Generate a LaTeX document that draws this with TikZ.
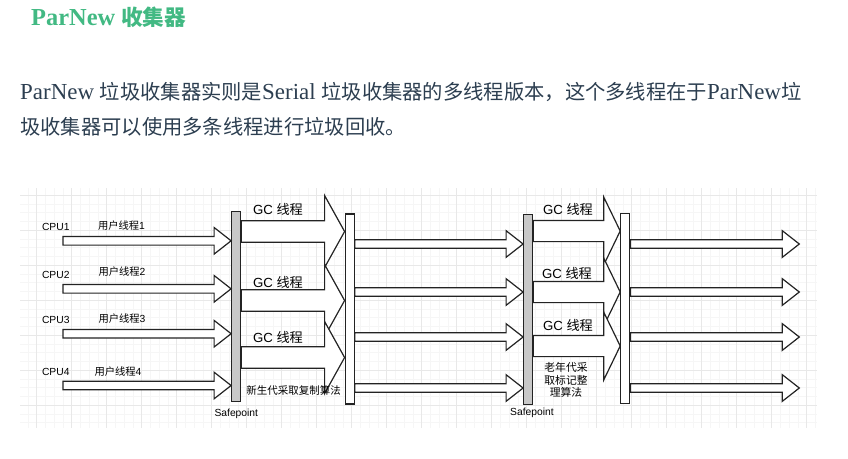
\documentclass[tikz,border=0pt]{standalone}
\usepackage{fontspec}
\setmainfont{Liberation Serif}[Scale=1.13]
\newfontfamily\cjk{Noto Sans CJK SC}
\newfontfamily\lbsans{Liberation Sans}
\usetikzlibrary{calc}

\definecolor{titlegreen}{RGB}{66,185,131}
\definecolor{bodytext}{RGB}{44,62,80}
\definecolor{gridminor}{RGB}{246,246,246}
\definecolor{gridmajor}{RGB}{232,232,232}
\definecolor{barfill}{RGB}{200,200,200}
\definecolor{edge}{RGB}{35,35,35}

\tikzset{
  sbar/.style={draw=edge, line width=1.2pt, minimum width=9pt, minimum height=190pt, inner sep=0pt},
  blk/.style args={#1/#2/#3}{draw=edge, line width=1.2pt, fill=white,
    to path={($(\tikztostart)+(0,#1)$) -- ($(\tikztotarget)+(-#3,#1)$) -- ($(\tikztotarget)+(-#3,#2)$) -- (\tikztotarget) -- ($(\tikztotarget)+(-#3,-#2)$) -- ($(\tikztotarget)+(-#3,-#1)$) -- ($(\tikztostart)+(0,-#1)$) -- cycle}},
  thinarr/.style={blk=4.3/13.3/17},
  gcarr/.style={blk=10.8/36/20},
  oldarr/.style={blk=10.6/34/16.5},
  lbl/.style={inner sep=0.75pt, font=\lbsans\fontsize{10.3}{12.4}\selectfont},
  gclbl/.style={inner sep=0.75pt, font=\lbsans\fontsize{13.2}{15}\selectfont},
}

\begin{document}
\begin{tikzpicture}[x=1pt,y=1pt,yscale=-1,xscale=1]
\useasboundingbox (0,0) rectangle (848,458);

% Text Node
\draw (31,17) node [anchor=west][inner sep=0pt, text=titlegreen, font=\bfseries\fontsize{21.6}{26}\selectfont] (title) {ParNew {\cjk 收集器}};
% Text Node
\draw (20,92) node [anchor=west][inner sep=0pt, text=bodytext, font=\fontsize{20.3}{24}\selectfont] (para1) {ParNew {\cjk 垃圾收集器实则是}Serial {\cjk 垃圾收集器的多线程版本，这个多线程在于}ParNew{\cjk 垃}};
% Text Node
\draw (20,127) node [anchor=west][inner sep=0pt, text=bodytext, font=\fontsize{20.3}{24}\selectfont] (para2) {{\cjk 圾收集器可以使用多条线程进行垃圾回收。}};

%Grid
\begin{scope}[shift={(1.7,20)}]
\draw [gridminor, line width=0.5pt, step=8.75] (18.3,168) grid (815.3,408);
\draw [gridmajor, line width=0.6pt, step=35] (18.3,168) grid (815.3,408);
\end{scope}

%Shape: Rectangle
\draw (236.2,306.7) node [sbar, fill=barfill] (sp1) {};
%Shape: Rectangle
\draw (349.7,309) node [sbar, fill=white] (sp2) {};
%Shape: Rectangle
\draw (528.2,309.7) node [sbar, fill=barfill] (sp3) {};
%Shape: Rectangle
\draw (625.3,308.7) node [sbar, fill=white] (sp4) {};

%Arrow ends
\coordinate (ua1) at (63,240.8);
\coordinate (ua2) at (63,288.8);
\coordinate (ua3) at (63,333.7);
\coordinate (ua4) at (63,385.5);
\coordinate (ub1) at (sp1.west |- ua1);
\coordinate (ub2) at (sp1.west |- ua2);
\coordinate (ub3) at (sp1.west |- ua3);
\coordinate (ub4) at (sp1.west |- ua4);
\coordinate (ga1) at (sp1.east |- 0,231.5);
\coordinate (ga2) at (sp1.east |- 0,300.5);
\coordinate (ga3) at (sp1.east |- 0,357.5);
\coordinate (gb1) at (sp2.west |- ga1);
\coordinate (gb2) at (sp2.west |- ga2);
\coordinate (gb3) at (sp2.west |- ga3);
\coordinate (ma1) at (sp2.east |- 0,244);
\coordinate (ma2) at (sp2.east |- 0,292);
\coordinate (ma3) at (sp2.east |- 0,337);
\coordinate (ma4) at (sp2.east |- 0,388);
\coordinate (mb1) at (sp3.west |- ma1);
\coordinate (mb2) at (sp3.west |- ma2);
\coordinate (mb3) at (sp3.west |- ma3);
\coordinate (mb4) at (sp3.west |- ma4);
\coordinate (oa1) at (sp3.east |- 0,231);
\coordinate (oa2) at (sp3.east |- 0,292);
\coordinate (oa3) at (sp3.east |- 0,346);
\coordinate (ob1) at (sp4.west |- oa1);
\coordinate (ob2) at (sp4.west |- oa2);
\coordinate (ob3) at (sp4.west |- oa3);
\coordinate (ra1) at (sp4.east |- 0,244);
\coordinate (ra2) at (sp4.east |- 0,292);
\coordinate (ra3) at (sp4.east |- 0,337);
\coordinate (ra4) at (sp4.east |- 0,388);
\coordinate (rb1) at (799.3,244);
\coordinate (rb2) at (799.3,292);
\coordinate (rb3) at (799.3,337);
\coordinate (rb4) at (799.3,388);

%Shape: Right Arrow
\draw [thinarr] (ua1) to (ub1);
\draw [thinarr] (ua2) to (ub2);
\draw [thinarr] (ua3) to (ub3);
\draw [thinarr] (ua4) to (ub4);
%Shape: Right Arrow
\draw [gcarr] (ga1) to (gb1);
\draw [gcarr] (ga2) to (gb2);
\draw [gcarr] (ga3) to (gb3);
%Shape: Right Arrow
\draw [thinarr] (ma1) to (mb1);
\draw [thinarr] (ma2) to (mb2);
\draw [thinarr] (ma3) to (mb3);
\draw [thinarr] (ma4) to (mb4);
%Shape: Right Arrow
\draw [oldarr] (oa1) to (ob1);
\draw [oldarr] (oa2) to (ob2);
\draw [oldarr] (oa3) to (ob3);
%Shape: Right Arrow
\draw [thinarr] (ra1) to (rb1);
\draw [thinarr] (ra2) to (rb2);
\draw [thinarr] (ra3) to (rb3);
\draw [thinarr] (ra4) to (rb4);

% Text Node
\draw (55.8,226.7) node [lbl] (cpu1) {CPU1};
% Text Node
\draw (55.8,275) node [lbl] (cpu2) {CPU2};
% Text Node
\draw (55.8,320) node [lbl] (cpu3) {CPU3};
% Text Node
\draw (55.8,372.3) node [lbl] (cpu4) {CPU4};
% Text Node
\draw (121.5,225.7) node [lbl] (ut1) {{\cjk 用户线程}1};
% Text Node
\draw (122,272) node [lbl] (ut2) {{\cjk 用户线程}2};
% Text Node
\draw (122,319) node [lbl] (ut3) {{\cjk 用户线程}3};
% Text Node
\draw (118,372) node [lbl] (ut4) {{\cjk 用户线程}4};
% Text Node
\draw (278,209) node [gclbl] (ygc1) {GC {\cjk 线程}};
% Text Node
\draw (278,282) node [gclbl] (ygc2) {GC {\cjk 线程}};
% Text Node
\draw (278,337) node [gclbl] (ygc3) {GC {\cjk 线程}};
% Text Node
\draw (568,209) node [gclbl] (ogc1) {GC {\cjk 线程}};
% Text Node
\draw (567,273) node [gclbl] (ogc2) {GC {\cjk 线程}};
% Text Node
\draw (568,325) node [gclbl] (ogc3) {GC {\cjk 线程}};
% Text Node
\draw (293.5,390) node [lbl, font=\cjk\fontsize{10.5}{12.4}\selectfont] (young) {新生代采取复制算法};
% Text Node
\draw (566,380) node [lbl, align=center, font=\cjk\fontsize{10.8}{12.3}\selectfont] (old) {老年代采\\取标记整\\理算法};
% Text Node
\draw (236.3,414.3) node [lbl] (safe1) {Safepoint};
% Text Node
\draw (532,413.3) node [lbl] (safe2) {Safepoint};

\end{tikzpicture}
\end{document}
